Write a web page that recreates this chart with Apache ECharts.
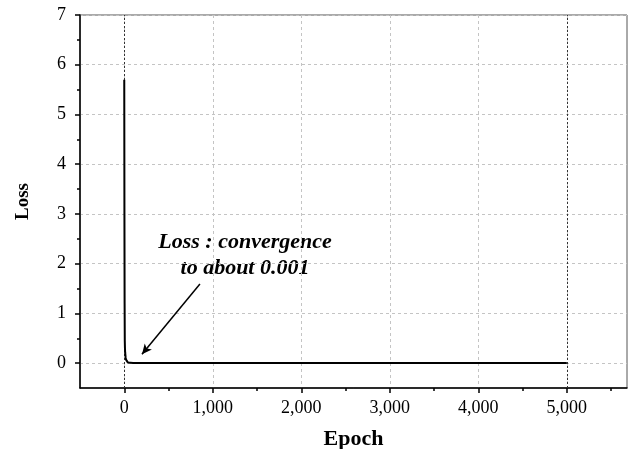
<!DOCTYPE html>
<html>
<head>
<meta charset="utf-8">
<script src="https://cdn.jsdelivr.net/npm/echarts@6/dist/echarts.min.js"></script>
<style>html,body{margin:0;padding:0;background:#fff}#c{width:629px;height:449px}</style>
</head>
<body>
<div id="c"></div>
<script>
// Data
var epochs = [0, 2, 4, 6, 8, 10, 15, 20, 30, 40, 60, 100, 200, 500, 1000, 2000, 3000, 4000, 5000];
var loss   = [5.7, 3.0, 1.2, 0.45, 0.3, 0.22, 0.12, 0.07, 0.03, 0.015, 0.006, 0.003, 0.002, 0.0015, 0.0012, 0.0011, 0.001, 0.001, 0.001];
var xTickLabels = [0, 1000, 2000, 3000, 4000, 5000];
var xMinorTicks = [500, 1500, 2500, 3500, 4500, 5500];
var yTickLabels = [0, 1, 2, 3, 4, 5, 6, 7];
var yMinorTicks = [0.5, 1.5, 2.5, 3.5, 4.5, 5.5, 6.5];
var annotationText = 'Loss : convergence\nto about 0.001';
var arrowFrom = [855, 1.59];
var arrowTo = [200, 0.18];

var serif = '"Liberation Serif", "DejaVu Serif", serif';
var chart = echarts.init(document.getElementById('c'));
var fmt = function (v) { return v.toLocaleString('en-US'); };

chart.setOption({
  animation: false,
  backgroundColor: '#fff',
  grid: { left: 80, top: 15, right: 2, bottom: 61, show: true, borderColor: '#555', borderWidth: 1,
          containLabel: false, outerBoundsMode: 'none' },
  xAxis: [{
    type: 'value', min: -500, max: 5680,
    name: 'Epoch', nameLocation: 'middle', nameGap: 40,
    nameTextStyle: { fontFamily: serif, fontWeight: 'bold', fontSize: 22, color: '#000' },
    axisLine: { onZero: false, lineStyle: { color: '#000', width: 1.5 } },
    axisTick: { customValues: xTickLabels, length: 5, lineStyle: { color: '#000', width: 1.5 } },
    axisLabel: { customValues: xTickLabels, formatter: fmt, fontFamily: serif, fontSize: 18, color: '#000', margin: 11 },
    splitLine: { show: true, lineStyle: { color: '#c4c4c4', type: [3, 3], width: 1 } }
  }, {
    type: 'value', min: -500, max: 5680, position: 'bottom',
    axisLine: { show: false, onZero: false },
    axisTick: { customValues: xMinorTicks, length: 3, lineStyle: { color: '#000', width: 1.5 } },
    axisLabel: { show: false },
    splitLine: { show: false }
  }],
  yAxis: [{
    type: 'value', min: -0.5, max: 7,
    name: 'Loss', nameLocation: 'middle', nameGap: 47,
    nameTextStyle: { fontFamily: serif, fontWeight: 'bold', fontSize: 19, color: '#000' },
    axisLine: { onZero: false, lineStyle: { color: '#000', width: 1.5 } },
    axisTick: { customValues: yTickLabels, length: 5, lineStyle: { color: '#000', width: 1.5 } },
    axisLabel: { customValues: yTickLabels, fontFamily: serif, fontSize: 18, color: '#000', margin: 14 },
    splitLine: { show: true, lineStyle: { color: '#c4c4c4', type: [3, 3], width: 1 } }
  }, {
    type: 'value', min: -0.5, max: 7, position: 'left',
    axisLine: { show: false, onZero: false },
    axisTick: { customValues: yMinorTicks, length: 3, lineStyle: { color: '#000', width: 1.5 } },
    axisLabel: { show: false },
    splitLine: { show: false }
  }],
  series: [{
    type: 'line',
    data: epochs.map(function (e, i) { return [e, loss[i]]; }),
    showSymbol: false,
    lineStyle: { color: '#000', width: 2 },
    z: 5,
    markLine: {
      silent: true,
      symbol: 'none',
      label: { show: false },
      lineStyle: { color: '#333', type: [2, 2], width: 1 },
      data: [{ xAxis: epochs[0] }, { xAxis: epochs[epochs.length - 1] }]
    }
  }, {
    type: 'line',
    data: [],
    markLine: {
      silent: true,
      symbol: ['none', 'arrow'],
      symbolSize: [7, 10],
      label: { show: false },
      lineStyle: { color: '#000', width: 1.5, type: 'solid' },
      data: [[{ coord: arrowFrom }, { coord: arrowTo }]]
    }
  }],
  graphic: [{
    type: 'text',
    x: 245, y: 229,
    style: {
      text: annotationText,
      fontFamily: serif, fontStyle: 'italic', fontWeight: 'bold', fontSize: 22,
      fill: '#000', align: 'center', verticalAlign: 'top', lineHeight: 26
    }
  }]
});
</script>
</body>
</html>
